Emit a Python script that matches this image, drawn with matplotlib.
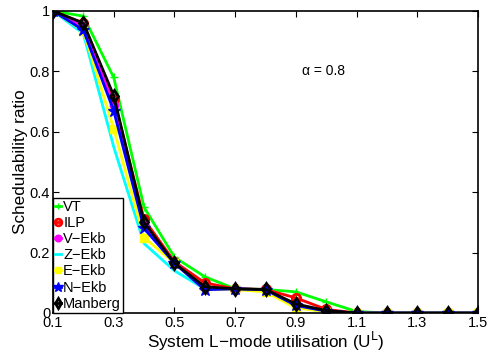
import matplotlib
matplotlib.use("Agg")
import matplotlib.pyplot as plt

plt.rcParams['font.family'] = ['Liberation Sans', 'DejaVu Sans']

x = [0.1, 0.2, 0.3, 0.4, 0.5, 0.6, 0.7, 0.8, 0.9, 1.0, 1.1, 1.2, 1.3, 1.4, 1.5]
vt      = [1.0, 0.983, 0.78, 0.35, 0.185, 0.12, 0.08, 0.078, 0.07, 0.037, 0.005, 0, 0, 0, 0]
ilp     = [1.0, 0.96, 0.71, 0.31, 0.17, 0.10, 0.08, 0.078, 0.05, 0.012, 0, 0, 0, 0, 0]
v_ekb   = [1.0, 0.95, 0.69, 0.29, 0.168, 0.08, 0.08, 0.077, 0.028, 0.006, 0, 0, 0, 0, 0]
z_ekb   = [1.0, 0.925, 0.55, 0.23, 0.14, 0.08, 0.078, 0.075, 0.02, 0.004, 0, 0, 0, 0, 0]
e_ekb   = [1.0, 0.935, 0.61, 0.25, 0.165, 0.078, 0.078, 0.07, 0.017, 0.004, 0, 0, 0, 0, 0]
n_ekb   = [1.0, 0.937, 0.67, 0.28, 0.165, 0.077, 0.08, 0.077, 0.025, 0.006, 0, 0, 0, 0, 0]
manberg = [1.0, 0.96, 0.72, 0.30, 0.165, 0.087, 0.08, 0.078, 0.03, 0.008, 0, 0, 0, 0, 0]

series = [
    ("VT", vt, "#00ff00", "+", {}),
    ("ILP", ilp, "#ff0000", "o", dict(mfc="none", mew=2)),
    ("V\u2212Ekb", v_ekb, "#ff00ff", "o", dict(mfc="#ff00ff")),
    ("Z\u2212Ekb", z_ekb, "#00ffff", None, {}),
    ("E\u2212Ekb", e_ekb, "#ffff00", "s", dict(mfc="#ffff00")),
    ("N\u2212Ekb", n_ekb, "#0000ff", "*", dict(mfc="#0000ff", ms=9)),
    ("Manberg", manberg, "#000000", "d", dict(mfc="none", mew=2)),
]

fig = plt.figure(figsize=(4.9, 3.58), dpi=100)
ax = fig.add_axes([53/490, 1-313/358, (478-53)/490, (313-11)/358])

for name, ys, c, m, kw in series:
    opts = dict(color=c, lw=2, label=name)
    if m:
        opts.update(marker=m, ms=kw.pop("ms", 6), markeredgecolor=c)
    opts.update(kw)
    ax.plot(x, ys, **opts)

ax.set_xlim(0.1, 1.5)
ax.set_ylim(0, 1)
ax.set_xticks([0.1, 0.3, 0.5, 0.7, 0.9, 1.1, 1.3, 1.5])
ax.set_xticklabels(["0.1", "0.3", "0.5", "0.7", "0.9", "1.1", "1.3", "1.5"])
ax.set_yticks([0, 0.2, 0.4, 0.6, 0.8, 1])
ax.set_yticklabels(["0", "0.2", "0.4", "0.6", "0.8", "1"])
ax.tick_params(direction="in", top=True, right=True, labelsize=10.5, pad=2, length=4)
for s in ax.spines.values():
    s.set_linewidth(1.2)
ax.set_xlabel("System L\u2212mode utilisation (U$^\\mathrm{L}$)", fontsize=12.3, labelpad=0)
ax.set_ylabel("Schedulability ratio", fontsize=12.3, labelpad=1)
ax.text(0.92, 0.8, "\u03b1 = 0.8", fontsize=10, ha="left", va="center")

leg = ax.legend(loc="lower left", bbox_to_anchor=(0, 0), fontsize=10.5, handlelength=0.4,
                handletextpad=0.15, borderaxespad=0.0, borderpad=0.15, labelspacing=0.15,
                markerscale=0.8, fancybox=False, framealpha=1, edgecolor="black")
leg.get_frame().set_linewidth(1.0)

fig.savefig("out.png", dpi=100)
